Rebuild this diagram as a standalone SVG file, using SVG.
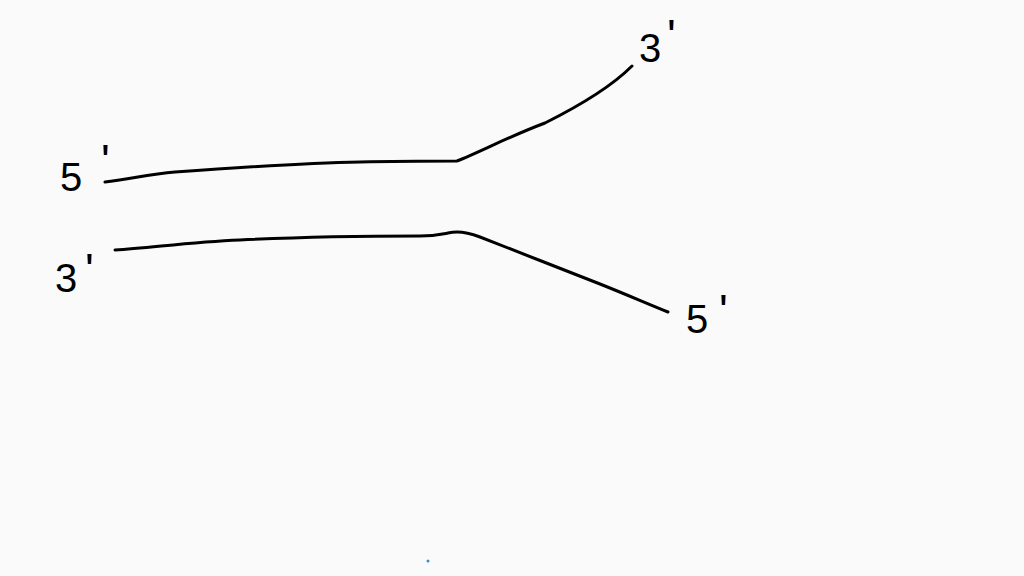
<svg xmlns="http://www.w3.org/2000/svg" width="1024" height="576" viewBox="0 0 1024 576">
<style>
.strand{fill:none;stroke:#000;stroke-width:3;stroke-linecap:round;stroke-linejoin:round}
.lbl{font-family:"Liberation Sans",Arial,sans-serif;font-size:40px;fill:#000}
.pr{font-size:46px}
</style>
<rect width="1024" height="576" fill="#fafafa"/>
<g id="connectors">
<path class="strand" d="M105,182 C130,179 150,174 175,172 C230,168 300,163 360,162 C400,161 430,161 457,161 C480,152 510,136 545,123 C575,108 610,88 632,66"/>
<path class="strand" d="M115,250 C150,248 190,242 240,240 C300,237 360,236 420,236 C440,236 448,232 457,232 C466,232 472,234 480,237 C520,253 560,268 600,284 C630,296 648,304 668,312"/>
</g>
<g id="label-5p-top-left"><text class="lbl" x="60" y="191">5<tspan class="pr" x="101" y="177">'</tspan></text></g>
<g id="label-3p-bottom-left"><text class="lbl" x="55" y="292">3<tspan class="pr" x="85" y="286">'</tspan></text></g>
<g id="label-3p-top-right"><text class="lbl" x="639" y="62">3<tspan class="pr" x="667" y="52">'</tspan></text></g>
<g id="label-5p-bottom-right"><text class="lbl" x="686" y="333">5<tspan class="pr" x="719" y="327">'</tspan></text></g>
<circle cx="428" cy="561" r="1.5" fill="#3a8fc8"/>
</svg>
